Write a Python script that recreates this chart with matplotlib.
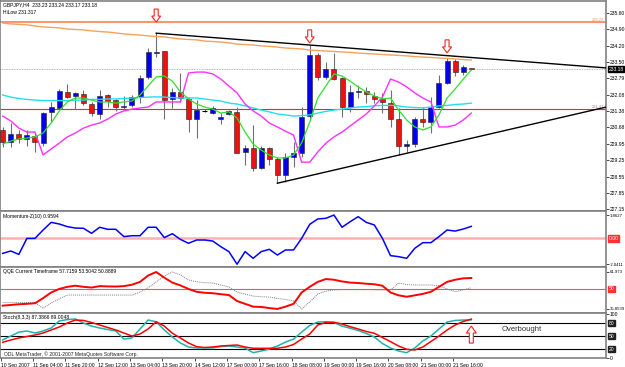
import matplotlib
matplotlib.use("Agg")
import matplotlib.pyplot as plt
from matplotlib.patches import Rectangle, Polygon
from matplotlib.transforms import blended_transform_factory

plt.rcParams['font.family'] = ['Liberation Sans', 'DejaVu Sans']

# GBPJPY H4 candles
opens = [230.56, 230.05, 230.39, 230.16, 230.30, 229.98, 231.32, 231.52, 232.21, 232.03,
         232.11, 231.68, 231.25, 232.07, 231.85, 231.54, 231.64, 231.97, 232.84, 233.90,
         233.97, 231.88, 232.21, 231.88, 231.02, 231.40, 231.31, 231.02, 231.25, 231.35,
         229.59, 229.77, 228.93, 229.77, 229.29, 228.60, 229.40, 229.55, 231.16, 233.80,
         232.84, 233.18, 232.79, 231.56, 232.19, 232.26, 232.04, 231.90, 231.74, 231.02,
         229.87, 229.94, 231.02, 230.92, 231.54, 232.58, 233.55, 233.08, 233.23]
highs = [230.69, 230.86, 230.56, 230.56, 230.48, 231.35, 231.78, 232.33, 232.53, 232.21,
         232.29, 231.78, 232.29, 232.11, 231.88, 232.03, 232.07, 232.93, 234.09, 234.74,
         233.97, 232.36, 233.01, 231.98, 231.85, 231.47, 231.60, 231.28, 231.42, 231.54,
         229.91, 230.77, 229.87, 229.84, 229.39, 229.55, 230.05, 231.54, 234.23, 233.87,
         233.51, 233.87, 232.86, 232.50, 232.50, 232.43, 232.21, 232.14, 232.29, 231.50,
         230.13, 231.13, 231.56, 232.00, 232.93, 233.66, 233.61, 233.37, 233.24]
lows = [229.82, 229.84, 230.00, 229.87, 229.59, 229.87, 230.92, 231.45, 231.93, 231.45,
        231.64, 231.16, 231.02, 231.56, 231.39, 231.42, 231.56, 231.74, 232.75, 233.73,
        231.02, 231.50, 231.78, 230.48, 230.20, 231.34, 231.25, 230.82, 231.21, 229.55,
        229.05, 228.80, 228.87, 229.05, 228.26, 228.30, 228.97, 229.40, 230.99, 232.72,
        232.75, 232.72, 231.11, 231.35, 231.93, 231.71, 231.71, 231.28, 230.70, 229.48,
        229.62, 229.84, 230.70, 230.42, 231.50, 232.55, 232.89, 232.93, 233.17]
closes = [230.05, 230.39, 230.17, 230.34, 230.04, 231.28, 231.54, 232.24, 232.00, 232.17,
          231.71, 231.28, 232.03, 231.82, 231.54, 231.61, 231.97, 232.79, 233.92, 233.94,
          231.85, 232.21, 231.93, 231.02, 231.42, 231.40, 231.50, 231.13, 231.38, 229.58,
          229.77, 228.93, 229.77, 229.29, 228.60, 229.40, 229.55, 231.13, 233.80, 232.84,
          233.19, 232.77, 231.56, 232.19, 232.26, 232.11, 231.90, 231.76, 231.02, 229.87,
          229.95, 231.02, 230.92, 231.54, 232.58, 233.55, 233.08, 233.29, 233.18]

# indicator lines on the price chart
ma_orange = [235.18, 235.14, 235.12, 235.10, 235.05, 235.01, 234.99, 234.97, 234.92, 234.90,
             234.88, 234.84, 234.81, 234.79, 234.75, 234.71, 234.68, 234.66, 234.62, 234.60,
             234.58, 234.53, 234.49, 234.47, 234.45, 234.40, 234.38, 234.36, 234.32, 234.27,
             234.25, 234.23, 234.19, 234.17, 234.14, 234.10, 234.08, 234.06, 234.01, 233.99,
             233.97, 233.95, 233.93, 233.91, 233.88, 233.86, 233.84, 233.82, 233.80, 233.78,
             233.76, 233.73, 233.71, 233.69, 233.67, 233.65, 233.63, 233.60, 233.58]
ma_cyan = [232.07, 231.98, 231.92, 231.88, 231.85, 231.83, 231.83, 231.83, 231.83, 231.85,
           231.85, 231.88, 231.88, 231.90, 231.90, 231.92, 231.94, 231.96, 231.98, 231.99,
           231.98, 231.96, 231.94, 231.94, 231.94, 231.90, 231.85, 231.81, 231.72, 231.68,
           231.60, 231.51, 231.42, 231.34, 231.25, 231.21, 231.16, 231.18, 231.21, 231.29,
           231.36, 231.42, 231.46, 231.51, 231.55, 231.57, 231.60, 231.62, 231.62, 231.60,
           231.55, 231.53, 231.51, 231.55, 231.60, 231.62, 231.66, 231.68, 231.72]
ma_green = [229.95, 230.08, 230.17, 230.21, 230.26, 230.43, 230.86, 231.38, 231.77, 231.94,
            231.94, 231.85, 231.77, 231.77, 231.72, 231.77, 231.81, 232.07, 232.46, 232.85,
            232.89, 232.67, 232.20, 231.90, 231.68, 231.55, 231.46, 231.29, 231.34, 231.08,
            230.47, 229.95, 229.69, 229.48, 229.35, 229.35, 229.48, 230.00, 230.90, 231.94,
            232.46, 232.98, 232.89, 232.67, 232.42, 232.20, 232.03, 231.90, 231.94, 231.42,
            230.99, 230.69, 230.56, 230.69, 231.21, 231.94, 232.33, 232.76, 233.15]
band_magenta = [231.16, 230.95, 230.64, 230.47, 230.47, 229.48, 229.74, 229.99, 230.26, 230.43,
                230.64, 230.77, 230.86, 231.03, 231.25, 231.38, 231.46, 231.51, 231.55, 231.77,
                231.77, 231.77, 231.77, 233.02, 233.06, 233.06, 232.98, 232.76, 232.46, 232.16,
                231.68, 231.38, 231.16, 230.86, 230.69, 230.51, 230.34, 229.17, 229.17, 229.61,
                229.99, 230.26, 230.47, 230.73, 230.99, 231.25, 231.60, 231.98, 232.76, 232.63,
                232.42, 232.16, 231.94, 231.77, 230.69, 230.69, 230.77, 230.99, 231.29]

# sub-window indicators
momentum = [-1.18, -0.99, -1.26, 0.01, 0.01, 0.67, 1.28, 1.15, 0.94, 0.83,
            0.81, 0.41, 0.89, 0.73, 0.73, 0.15, 0.22, 0.22, 0.89, 0.89,
            0.07, 0.38, -0.07, -0.38, -0.12, -0.12, -0.20, -0.65, -1.04, -2.04,
            -1.04, -1.57, -1.04, -0.86, -1.31, -0.91, -0.91, 0.01, 1.12, 1.55,
            1.60, 1.86, 0.89, 1.33, 1.73, 1.28, 1.07, 0.01, -1.36, -1.44,
            -1.57, -0.78, -0.33, -0.33, 0.15, 0.67, 0.59, 0.75, 0.96]
qqe_main = [38.2, 38.7, 39.2, 39.5, 39.9, 43.5, 47.5, 50.0, 51.5, 52.3,
            51.5, 51.0, 52.0, 51.8, 51.7, 52.0, 53.0, 55.0, 59.5, 61.97,
            58.0, 54.5, 52.5, 50.0, 48.0, 47.3, 47.0, 46.3, 45.7, 41.5,
            39.5, 37.5, 37.3, 36.5, 35.9, 37.5, 39.5, 47.5, 51.5, 55.0,
            57.0, 56.5, 55.3, 54.5, 54.2, 53.7, 53.3, 52.3, 47.5, 45.5,
            44.5, 45.5, 46.5, 48.0, 51.5, 55.0, 56.5, 57.5, 57.72]
qqe_slow = [40.4, 40.4, 40.4, 40.4, 40.4, 36.3, 40.1, 43.0, 45.7, 45.7,
            45.7, 45.7, 45.7, 45.7, 45.7, 45.7, 45.7, 47.8, 50.7, 55.0,
            59.1, 61.97, 59.9, 56.3, 55.1, 54.4, 54.2, 52.8, 51.4, 47.8,
            46.4, 45.0, 44.5, 44.3, 43.3, 42.6, 41.5, 35.85, 40.8, 46.4,
            48.5, 49.3, 49.5, 49.5, 49.5, 49.5, 49.4, 49.3, 49.3, 54.2,
            53.1, 52.8, 52.8, 52.8, 52.3, 50.0, 48.1, 49.3, 50.89]
stoch_main = [40.9, 50.0, 59.0, 61.7, 57.0, 61.7, 68.6, 84.8, 88.0, 89.4,
              80.0, 73.0, 68.6, 65.0, 61.7, 43.0, 45.5, 66.3, 87.0, 83.0,
              64.0, 47.8, 34.0, 24.7, 22.4, 22.4, 22.4, 25.9, 27.0, 24.7,
              22.4, 11.5, 15.5, 20.0, 27.0, 36.0, 43.0, 59.0, 74.4, 82.4,
              83.0, 81.3, 73.0, 68.0, 62.8, 55.9, 47.8, 32.8, 22.4, 15.5,
              11.5, 22.4, 38.6, 50.0, 66.3, 82.4, 86.0, 87.0, 87.39]
stoch_signal = [35.6, 40.9, 45.5, 49.0, 52.4, 57.0, 64.0, 70.9, 80.0, 87.0,
                86.0, 81.3, 75.5, 69.7, 64.0, 57.0, 50.0, 54.7, 66.3, 83.0,
                73.0, 56.4, 45.5, 34.0, 25.4, 23.6, 24.7, 27.0, 28.2, 29.3,
                24.7, 21.7, 21.7, 21.7, 21.7, 24.7, 30.5, 43.0, 54.7, 75.5,
                81.3, 81.8, 77.8, 71.6, 66.3, 60.5, 56.4, 46.7, 37.0, 27.0,
                19.4, 17.8, 24.7, 37.4, 50.0, 64.0, 75.5, 83.6, 89.0]

# drawn objects
resist_level = 235.22
hilow_level = 231.47
upper_trend_x, upper_trend_y = [19, 74.7], [234.74, 233.24]
lower_trend_x, lower_trend_y = [34, 74.7], [228.26, 231.55]
arrow_bars = [19, 38, 55]
arrow_tips = [235.22, 234.32, 233.89]
stoch_arrow_bar, stoch_arrow_tip = 58, 73.0

price_ticks = [235.60, 234.90, 234.20, 233.50, 232.79, 232.08, 231.38,
               230.68, 229.95, 229.25, 228.55, 227.85, 227.15]
time_labels = ['10 Sep 2007', '11 Sep 04:00', '11 Sep 20:00', '12 Sep 12:00',
               '13 Sep 04:00', '13 Sep 20:00', '14 Sep 12:00', '17 Sep 00:00',
               '17 Sep 16:00', '18 Sep 08:00', '19 Sep 00:00', '19 Sep 16:00',
               '20 Sep 08:00', '21 Sep 00:00', '21 Sep 16:00']
time_label_bars = list(range(0, 57, 4))

x = list(range(len(closes)))
W, H = 625.0, 367.0
AX_R = 606.0
BAR_PX = 8.08
FS = 3.6

fig = plt.figure(figsize=(6.25, 3.67), dpi=100)


def panel(top, bottom, ylim):
    ax = fig.add_axes([0, 1 - bottom / H, AX_R / W, (bottom - top) / H])
    ax.set_xlim(-0.33, 74.67)
    ax.set_ylim(*ylim)
    ax.set_xticks([])
    ax.yaxis.tick_right()
    ax.tick_params(axis='y', length=2, width=0.5, pad=0.8, labelsize=FS)
    for s in ax.spines.values():
        s.set_color('#808080')
        s.set_linewidth(1.2)
    return ax


def box_label(ax, y, txt, fc, tc='white'):
    tr = blended_transform_factory(ax.transAxes, ax.transData)
    ax.text(1.004, y, txt, transform=tr, fontsize=FS, color=tc, va='center', ha='left',
            clip_on=False, bbox=dict(boxstyle='square,pad=0.12', fc=fc, ec=fc))


def block_arrow(ax, xc, tip, down=True, w=9, h=13, head=6, shaft=4):
    y0, y1 = ax.get_ylim()
    py = (y1 - y0) / (ax.get_position().height * H)
    s = 1 if down else -1
    pts = [(0, 0), (-w / 2, head), (-shaft / 2, head), (-shaft / 2, h),
           (shaft / 2, h), (shaft / 2, head), (w / 2, head)]
    poly = [(xc + ox / BAR_PX, tip + s * oy * py) for ox, oy in pts]
    ax.add_patch(Polygon(poly, closed=True, fc='white', ec='#ff2020', lw=0.8, zorder=6))


# ---- main price window ----
ax = panel(1, 211, (227.06, 236.13))
ax.set_yticks(price_ticks)
ax.set_yticklabels([f'{v:.2f}' for v in price_ticks])
ax.axhline(resist_level, color='#ff7f50', lw=1.2, zorder=1)
ax.axhline(hilow_level, color='#ff2020', lw=0.8, zorder=1)
ax.axhline(closes[-1], color='#a0a0a0', lw=0.6, ls=(0, (1, 1)), zorder=1)
ax.text(74.4, resist_level, f'{resist_level:.2f}', fontsize=3, color='#ff9070',
        ha='right', va='bottom')
ax.text(74.4, hilow_level, f'{hilow_level:.2f}', fontsize=3, color='#ff7070',
        ha='right', va='bottom')

for i in x:
    o, h, l, c = opens[i], highs[i], lows[i], closes[i]
    ax.vlines(i, l, h, color='#707070', lw=0.8, zorder=2)
    if c == o:
        ax.hlines(o, i - 0.31, i + 0.31, color='black', lw=0.8, zorder=3)
    else:
        col = '#0000f0' if c > o else '#f01010'
        ax.add_patch(Rectangle((i - 0.31, min(o, c)), 0.62, abs(c - o), fc=col,
                               ec='#202020', lw=0.4, zorder=3))

ax.plot(x, ma_orange, color='#f5a25d', lw=1.0, zorder=4)
ax.plot(x, ma_cyan, color='#20e0f0', lw=1.0, zorder=4)
ax.plot(x, band_magenta, color='#ff30ff', lw=1.0, zorder=4)
ax.plot(x, ma_green, color='#30e030', lw=0.9, zorder=4)
ax.plot(upper_trend_x, upper_trend_y, color='black', lw=1.0, zorder=5)
ax.plot(lower_trend_x, lower_trend_y, color='black', lw=1.0, zorder=5)
for b, t in zip(arrow_bars, arrow_tips):
    block_arrow(ax, b, t, down=True)
box_label(ax, closes[-1], f'{closes[-1]:.2f}', 'black')

fig.text(3 / W, 1 - 5 / H, 'GBPJPY,H4  233.23 233.24 233.17 233.18', fontsize=FS, va='center')
fig.text(3 / W, 1 - 12 / H, 'HiLow 231.317', fontsize=FS, va='center')

# ---- momentum window ----
am = panel(211, 267, (-2.26, 2.18))
am.set_yticks([1.8627, -2.0411])
am.set_yticklabels(['1.8627', '-2.0411'], fontsize=3.1)
am.axhline(0, color='#ffb0b0', lw=1.8)
am.plot(x, momentum, color='#0000ff', lw=1.1)
box_label(am, 0, '0.00', '#ff3030')
fig.text(3 / W, 1 - 217 / H, 'Momentum-Z(10) 0.9594', fontsize=FS, va='center')

# ---- QQE window ----
aq = panel(267, 313, (33.03, 65.50))
aq.set_yticks([61.973, 35.8539])
aq.set_yticklabels(['61.973', '35.8539'], fontsize=3.1)
aq.axhline(50, color='#ff5050', lw=0.8)
aq.plot(x, qqe_slow, color='#808080', lw=0.7, ls=(0, (1, 1)))
aq.plot(x, qqe_main, color='#ff0000', lw=1.4)
box_label(aq, 50, '50', '#ff3030')
fig.text(3 / W, 1 - 272 / H, 'QQE Current Timeframe 57.7159 53.5042 50.8889', fontsize=FS, va='center')

# ---- stochastic window ----
ast = panel(313, 358, (-0.7, 103.2))
ast.set_yticks([100, 0])
ast.set_yticklabels(['100', '0'])
for lvl in (80, 50, 20):
    ast.axhline(lvl, color='black', lw=0.8)
    box_label(ast, lvl, str(lvl), '#202020')
ast.plot(x, stoch_main, color='#20b2aa', lw=1.1)
ast.plot(x, stoch_signal, color='#ff0000', lw=1.1)
block_arrow(ast, stoch_arrow_bar, stoch_arrow_tip, down=False, w=10, h=17, head=7, shaft=4)
ast.text(61.7, 64, 'Overbought', fontsize=5.5, color='#303030', va='center', ha='left')
ast.text(0.2, 8.5, 'ODL MetaTrader, \u00a9 2001-2007 MetaQuotes Software Corp.',
         fontsize=FS, color='#202020', va='center', ha='left')
fig.text(3 / W, 1 - 318 / H, 'Stoch(8,3,3) 87.3866 89.0048', fontsize=FS, va='center')

ast.set_xticks([b - 0.25 for b in time_label_bars])
ast.set_xticklabels(time_labels, fontsize=FS, ha='left')
ast.tick_params(axis='x', length=2.5, width=0.5, pad=0.8, direction='out')

fig.savefig('out.png', dpi=100)
